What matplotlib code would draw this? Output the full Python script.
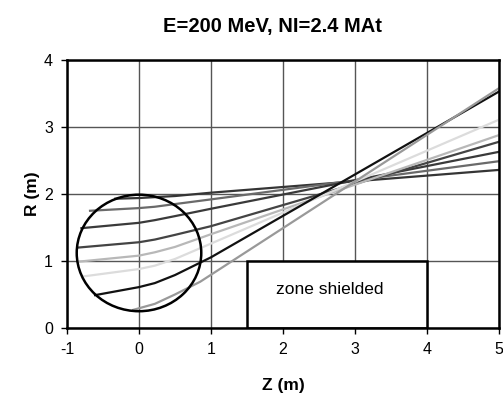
import matplotlib
matplotlib.use('Agg')
import matplotlib.pyplot as plt
from matplotlib.patches import Ellipse, Rectangle

plt.rcParams['font.family'] = ['Liberation Sans', 'DejaVu Sans']
plt.rcParams['axes.unicode_minus'] = False

# trajectories (z, r in m), top start -> bottom start
zA = [-0.33, 0.0, 0.5, 1.0, 5.0]
rA = [1.93, 1.94, 1.97, 2.02, 2.36]
zB = [-0.68, 0.0, 0.22, 0.5, 1.0, 5.0]
rB = [1.75, 1.79, 1.81, 1.85, 1.92, 2.49]
zC = [-0.80, 0.0, 0.22, 0.5, 1.0, 5.0]
rC = [1.49, 1.57, 1.61, 1.67, 1.78, 2.63]
zD = [-0.85, 0.0, 0.22, 0.5, 1.0, 5.0]
rD = [1.20, 1.28, 1.32, 1.39, 1.52, 2.78]
zE = [-0.84, 0.0, 0.22, 0.5, 1.0, 5.0]
rE = [0.99, 1.08, 1.13, 1.21, 1.40, 2.88]
zF = [-0.77, 0.0, 0.22, 0.5, 1.0, 5.0]
rF = [0.77, 0.88, 0.93, 1.03, 1.26, 3.11]
zG = [-0.61, 0.0, 0.22, 0.5, 1.0, 5.0]
rG = [0.49, 0.61, 0.67, 0.79, 1.055, 3.53]
zH = [-0.08, 0.22, 0.5, 0.85, 5.0]
rH = [0.27, 0.36, 0.50, 0.69, 3.58]

trajs = [(zA, rA, '#353535'), (zB, rB, '#6a6a6a'), (zC, rC, '#3a3a3a'),
         (zD, rD, '#444444'), (zE, rE, '#b8b8b8'), (zF, rF, '#dcdcdc'),
         (zG, rG, '#111111'), (zH, rH, '#999999')]

fig = plt.figure(figsize=(5.03, 3.98), dpi=100)
ax = fig.add_axes([0.1332, 0.176, 0.8588, 0.673])

for z, r, c in trajs:
    ax.plot(z, r, color=c, lw=1.6, zorder=3)

# magnet
ax.add_patch(Ellipse((0.0, 1.12), 1.73, 1.74, fill=False, ec='black', lw=1.8, zorder=4))
# shielded zone
ax.add_patch(Rectangle((1.5, 0.0), 2.5, 1.0, fc='white', ec='black', lw=1.8, zorder=4))
ax.text(2.65, 0.58, 'zone shielded', fontsize=12.5, ha='center', va='center', zorder=5)

ax.set_xlim(-1, 5)
ax.set_ylim(0, 4)
ax.set_xticks(range(-1, 6))
ax.set_yticks(range(0, 5))
ax.grid(True, color='#555555', lw=1.0, zorder=1)
ax.set_axisbelow(True)
for s in ax.spines.values():
    s.set_linewidth(1.8)
    s.set_zorder(6)
ax.tick_params(direction='out', length=4, width=1, labelsize=11.5, pad=6)

ax.set_title('E=200 MeV, NI=2.4 MAt', fontsize=14.5, fontweight='bold', pad=20, x=0.475)
ax.set_xlabel('Z (m)', fontsize=12.5, fontweight='bold', labelpad=15)
ax.set_ylabel('R (m)', fontsize=12.5, fontweight='bold', labelpad=3)

plt.savefig('out.png', dpi=100)
